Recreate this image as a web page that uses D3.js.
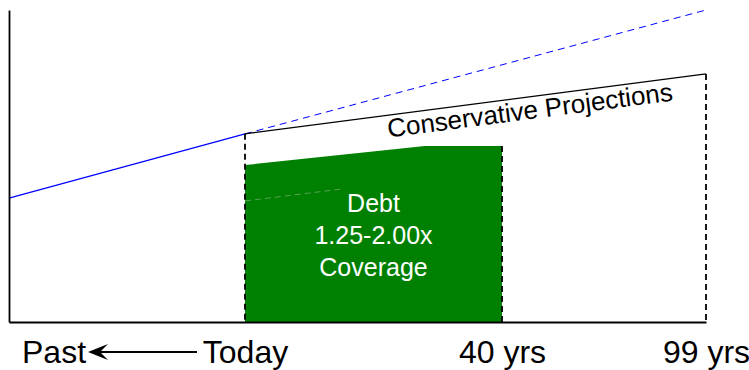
<!DOCTYPE html>
<html lang="en">
<head>
<meta charset="utf-8">
<title>Debt coverage projections</title>
<script src="https://d3js.org/d3.v7.min.js"></script>
<style>
  body { margin: 0; background: #fff; }
  svg text { font-family: "Liberation Sans", Arial, Helvetica, sans-serif; }
</style>
</head>
<body>
<div id="chart"></div>
<script>
// Years relative to today (-1 stands for "the past")
var histYears = [-1, 0];
var histValues = [39.7, 60.3];
var optimisticYears = [0, 99];
var optimisticValues = [60.3, 100];
var conservativeYears = [0, 99];
var conservativeValues = [60.3, 79.5];
var debtYears = [0, 28, 40];
var debtValues = [50.3, 56.4, 56.4];
var faintYears = [0, 15];
var faintValues = [38.8, 42.6];
var tickYears = [0, 40, 99];
var tickLabels = ["Today", "40 yrs", "99 yrs"];
var debtLabel = ["Debt", "1.25-2.00x", "Coverage"];

var width = 749, height = 370;
var svg = d3.select("#chart").append("svg")
  .attr("width", width)
  .attr("height", height);

// schematic axis: not to scale between segments
var x = d3.scaleLinear()
  .domain([-1, 0, 40, 99])
  .range([9, 245, 502, 706]);
var y = d3.scaleLinear()
  .domain([0, 100])
  .range([322, 10]);

function pts(xs, vs) { return xs.map(function(d, i) { return [d, vs[i]]; }); }
var line = d3.line()
  .x(function(d) { return x(d[0]); })
  .y(function(d) { return y(d[1]); });

// debt area (green)
var area = d3.area()
  .x(function(d) { return x(d[0]); })
  .y0(y(0))
  .y1(function(d) { return y(d[1]); });
svg.append("path")
  .datum(pts(debtYears, debtValues))
  .attr("d", area)
  .attr("fill", "#008000");

// faint dashed line inside the green area
svg.append("path")
  .datum(pts(faintYears, faintValues))
  .attr("d", line)
  .attr("fill", "none")
  .attr("stroke", "#6aaa6a")
  .attr("stroke-width", 0.8)
  .attr("stroke-dasharray", "6,4");

// history (solid blue)
svg.append("path")
  .datum(pts(histYears, histValues))
  .attr("d", line)
  .attr("fill", "none")
  .attr("stroke", "#0000ff")
  .attr("stroke-width", 1.2);

// optimistic projection (dashed blue)
svg.append("path")
  .datum(pts(optimisticYears, optimisticValues))
  .attr("d", line)
  .attr("fill", "none")
  .attr("stroke", "#0000ff")
  .attr("stroke-width", 1)
  .attr("stroke-dasharray", "7,5");

// conservative projection (black)
svg.append("path")
  .datum(pts(conservativeYears, conservativeValues))
  .attr("d", line)
  .attr("fill", "none")
  .attr("stroke", "#000")
  .attr("stroke-width", 1.2);

// vertical dashed guides
var guides = [
  { yr: 0, v: conservativeValues[0] },
  { yr: 40, v: debtValues[2] },
  { yr: 99, v: conservativeValues[1] }
];
svg.selectAll(".guide")
  .data(guides).enter().append("line")
  .attr("class", "guide")
  .attr("x1", function(d) { return x(d.yr); })
  .attr("x2", function(d) { return x(d.yr); })
  .attr("y1", function(d) { return y(d.v); })
  .attr("y2", y(0))
  .attr("stroke", "#000")
  .attr("stroke-width", 1.8)
  .attr("stroke-dasharray", "6,4");

// axes
var xAxis = svg.append("g")
  .attr("transform", "translate(0," + y(0) + ")")
  .call(d3.axisBottom(x)
    .tickValues(tickYears)
    .tickFormat(function(d, i) { return tickLabels[i]; })
    .tickSize(0)
    .tickSizeOuter(0)
    .tickPadding(18));
xAxis.select(".domain").attr("stroke", "#000").attr("stroke-width", 1.8);
xAxis.selectAll("text")
  .attr("font-size", "32px")
  .attr("fill", "#000")
  .style("font-family", '"Liberation Sans", Arial, sans-serif');

var yAxis = svg.append("g")
  .attr("transform", "translate(" + x(-1) + ",0)")
  .call(d3.axisLeft(y).tickValues([]).tickSizeOuter(0));
yAxis.select(".domain").attr("stroke", "#000").attr("stroke-width", 1.8);

// "Past" label and arrow
svg.append("text")
  .attr("x", x(-1) + 13)
  .attr("y", 363)
  .attr("font-size", "32px")
  .text("Past");
var ay = 352, ax0 = x(0) - 48, ax1 = x(-1) + 79;
svg.append("line")
  .attr("x1", ax0).attr("x2", ax1 + 4)
  .attr("y1", ay).attr("y2", ay)
  .attr("stroke", "#000").attr("stroke-width", 1.8);
svg.append("path")
  .attr("d", "M" + ax1 + "," + ay + " L" + (ax1 + 20) + "," + (ay - 8) +
    " L" + (ax1 + 12) + "," + ay + " L" + (ax1 + 20) + "," + (ay + 8) + " Z")
  .attr("fill", "#000");

// rotated label along conservative line
var angle = Math.atan2(y(conservativeValues[1]) - y(conservativeValues[0]),
                       x(99) - x(0)) * 180 / Math.PI;
var lx = 531, ly = 119;
svg.append("text")
  .attr("transform", "translate(" + lx + "," + ly + ") rotate(" + angle + ")")
  .attr("text-anchor", "middle")
  .attr("font-size", "26px")
  .attr("fill", "#000")
  .text("Conservative Projections");

// label inside green area
var cx = (x(0) + x(40)) / 2;
svg.selectAll(".debtLabel")
  .data(debtLabel).enter().append("text")
  .attr("class", "debtLabel")
  .attr("x", cx)
  .attr("y", function(d, i) { return 212 + i * 32; })
  .attr("text-anchor", "middle")
  .attr("font-size", "25px")
  .attr("fill", "#fff")
  .text(function(d) { return d; });
</script>
</body>
</html>
